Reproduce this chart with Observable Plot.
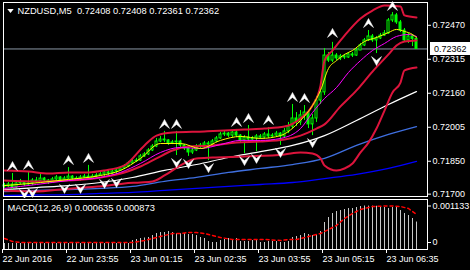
<!DOCTYPE html>
<html><head><meta charset="utf-8">
<script src="https://cdn.jsdelivr.net/npm/d3@7"></script>
<script src="https://cdn.jsdelivr.net/npm/@observablehq/plot@0.6"></script>
<style>
html,body{margin:0;padding:0;background:#000;}
#chart{position:relative;width:470px;height:270px;overflow:hidden;background:#000;}
#chart svg{position:absolute;left:0;display:block;}
</style></head><body><div id="chart"></div>
<script>
// ---------- data ----------
const symbolName = "NZDUSD,M5";
const headerOHLC = ["0.72408", "0.72408", "0.72361", "0.72362"];
const bid = 0.72362;
const macdName = "MACD(12,26,9)";
const macdHeader = ["0.000635", "0.000873"];
const timeTickIdx = [0, 16, 32, 48, 64, 80, 96];
const timeTickLabels = ["22 Jun 2016", "22 Jun 23:55", "23 Jun 01:15", "23 Jun 02:35", "23 Jun 03:55", "23 Jun 05:15", "23 Jun 06:35"];
const priceTicks = [0.72470, 0.72315, 0.72160, 0.72005, 0.71850, 0.71700];
const macdTicks = [0.001133, 0];

const opens = [0.71740,0.71735,0.71744,0.71730,0.71749,0.71753,0.71744,0.71749,0.71762,0.71758,0.71771,0.71762,0.71753,0.71767,0.71776,0.71762,0.71771,0.71780,0.71771,0.71767,0.71776,0.71780,0.71771,0.71780,0.71785,0.71790,0.71799,0.71794,0.71803,0.71808,0.71817,0.71826,0.71840,0.71849,0.71853,0.71872,0.71881,0.71899,0.71917,0.71940,0.71949,0.71945,0.71931,0.71936,0.71940,0.71922,0.71908,0.71890,0.71899,0.71917,0.71922,0.71931,0.71926,0.71940,0.71954,0.71972,0.71976,0.71967,0.71981,0.71967,0.71945,0.71958,0.71949,0.71954,0.71963,0.71958,0.71972,0.71963,0.71967,0.71976,0.71963,0.71986,0.72008,0.72045,0.72027,0.72059,0.72072,0.72018,0.72045,0.72127,0.72164,0.72332,0.72309,0.72332,0.72319,0.72328,0.72323,0.72337,0.72332,0.72355,0.72378,0.72401,0.72419,0.72401,0.72410,0.72423,0.72433,0.72492,0.72515,0.72483,0.72446,0.72401,0.72419,0.72408];
const highs = [0.71749,0.71753,0.71794,0.71758,0.71767,0.71758,0.71799,0.71771,0.71776,0.71790,0.71776,0.71767,0.71776,0.71785,0.71780,0.71780,0.71821,0.71785,0.71780,0.71785,0.71790,0.71831,0.71790,0.71794,0.71799,0.71808,0.71808,0.71812,0.71817,0.71826,0.71835,0.71849,0.71858,0.71863,0.71881,0.71890,0.71908,0.71926,0.71954,0.71963,0.71986,0.71949,0.71945,0.71986,0.71945,0.71926,0.71912,0.71908,0.71926,0.71931,0.71940,0.71940,0.71949,0.71963,0.71981,0.71990,0.71981,0.71990,0.71995,0.71972,0.71967,0.72013,0.71963,0.71972,0.71972,0.71981,0.72004,0.71976,0.71986,0.71981,0.71999,0.72027,0.72109,0.72072,0.72081,0.72104,0.72081,0.72063,0.72145,0.72182,0.72364,0.72346,0.72392,0.72341,0.72337,0.72337,0.72346,0.72346,0.72364,0.72387,0.72410,0.72446,0.72428,0.72419,0.72433,0.72446,0.72501,0.72528,0.72524,0.72492,0.72455,0.72433,0.72428,0.72408];
const lows = [0.71726,0.71730,0.71721,0.71726,0.71744,0.71735,0.71740,0.71739,0.71749,0.71753,0.71753,0.71744,0.71749,0.71762,0.71753,0.71758,0.71767,0.71762,0.71762,0.71758,0.71771,0.71767,0.71767,0.71776,0.71785,0.71780,0.71785,0.71790,0.71785,0.71803,0.71812,0.71821,0.71835,0.71844,0.71849,0.71867,0.71876,0.71894,0.71912,0.71935,0.71935,0.71922,0.71926,0.71876,0.71912,0.71899,0.71872,0.71881,0.71894,0.71908,0.71917,0.71853,0.71922,0.71935,0.71949,0.71963,0.71958,0.71958,0.71958,0.71935,0.71885,0.71940,0.71945,0.71894,0.71949,0.71954,0.71954,0.71958,0.71963,0.71922,0.71954,0.71976,0.71999,0.72008,0.72013,0.72036,0.71999,0.71967,0.72027,0.72109,0.72150,0.72300,0.72300,0.72309,0.72309,0.72314,0.72319,0.72323,0.72328,0.72355,0.72373,0.72396,0.72392,0.72341,0.72405,0.72419,0.72428,0.72483,0.72474,0.72437,0.72392,0.72387,0.72373,0.72361];
const closes = [0.71735,0.71744,0.71730,0.71749,0.71753,0.71744,0.71749,0.71762,0.71758,0.71771,0.71762,0.71753,0.71767,0.71776,0.71762,0.71771,0.71780,0.71771,0.71767,0.71776,0.71780,0.71771,0.71780,0.71785,0.71790,0.71799,0.71794,0.71803,0.71808,0.71817,0.71826,0.71840,0.71849,0.71853,0.71872,0.71881,0.71899,0.71917,0.71940,0.71949,0.71945,0.71931,0.71936,0.71940,0.71922,0.71908,0.71890,0.71899,0.71917,0.71922,0.71931,0.71926,0.71940,0.71954,0.71972,0.71976,0.71967,0.71981,0.71967,0.71945,0.71958,0.71949,0.71954,0.71963,0.71958,0.71972,0.71963,0.71967,0.71976,0.71963,0.71986,0.72008,0.72045,0.72027,0.72059,0.72072,0.72018,0.72045,0.72127,0.72164,0.72332,0.72309,0.72332,0.72319,0.72328,0.72323,0.72337,0.72332,0.72355,0.72378,0.72401,0.72419,0.72401,0.72410,0.72423,0.72433,0.72492,0.72515,0.72483,0.72446,0.72401,0.72419,0.72408,0.72362];

// Bollinger bands (red)
const bbUpperIdx = [0,6,11,16,21,25,30,35,38,42,50,55,60,65,70,74,77,79,80,82,85,89,92,95,99,100,103];
const bbUpperVal = [0.71808,0.71803,0.71794,0.71799,0.71799,0.71808,0.71831,0.71922,0.71967,0.71981,0.71986,0.71990,0.71995,0.71999,0.72008,0.72045,0.72104,0.72195,0.72309,0.72355,0.72423,0.72501,0.72537,0.72560,0.72556,0.72515,0.72506];
const bbMidIdx = [0,8,16,24,30,34,38,42,46,52,58,64,70,74,78,80,84,88,92,96,98,100,103];
const bbMidVal = [0.71762,0.71758,0.71762,0.71776,0.71799,0.71826,0.71863,0.71899,0.71917,0.71922,0.71936,0.71940,0.71949,0.71967,0.71999,0.72018,0.72100,0.72173,0.72259,0.72337,0.72378,0.72396,0.72401];
const bbLowerIdx = [0,8,14,20,26,30,34,37,40,44,48,52,60,70,74,77,79,80,83,85,87,89,91,93,95,97,99,100,103];
const bbLowerVal = [0.71717,0.71712,0.71721,0.71730,0.71739,0.71749,0.71753,0.71758,0.71785,0.71831,0.71863,0.71867,0.71872,0.71881,0.71890,0.71885,0.71863,0.71831,0.71808,0.71817,0.71840,0.71890,0.71935,0.71999,0.72081,0.72164,0.72209,0.72264,0.72277];
// moving averages
const maIdx = [0,8,16,24,32,40,48,56,64,72,80,88,96,103];
const whiteVal = [0.71721,0.71730,0.71739,0.71753,0.71776,0.71808,0.71835,0.71867,0.71894,0.71922,0.71967,0.72036,0.72109,0.72168];
const lightBlueVal = [0.71712,0.71717,0.71721,0.71726,0.71735,0.71758,0.71776,0.71799,0.71817,0.71835,0.71863,0.71922,0.71972,0.72008];
const blueVal = [0.71694,0.71696,0.71698,0.71703,0.71708,0.71717,0.71726,0.71735,0.71744,0.71753,0.71771,0.71790,0.71817,0.71849];
const magentaIdx = [0,8,16,24,29,34,39,44,49,54,59,64,69,74,77,80,83,86,89,92,95,98,101,103];
const magentaVal = [0.71726,0.71744,0.71762,0.71776,0.71799,0.71840,0.71890,0.71913,0.71908,0.71926,0.71945,0.71945,0.71954,0.71999,0.72072,0.72136,0.72186,0.72255,0.72309,0.72355,0.72387,0.72419,0.72428,0.72419];
const yellowIdx = [0,9,16,24,29,34,39,44,49,54,59,64,69,74,77,79,81,83,85,87,90,93,96,98,100,102,103];
const yellowVal = [0.71739,0.71753,0.71767,0.71785,0.71808,0.71863,0.71931,0.71931,0.71908,0.71945,0.71963,0.71954,0.71967,0.72036,0.72104,0.72173,0.72273,0.72309,0.72337,0.72355,0.72396,0.72414,0.72437,0.72451,0.72442,0.72428,0.72414];
// fractals
const fracUpIdx = [2,6,16,21,40,43,58,61,66,72,75,82,91,97];
const fracUpVal = [0.71826,0.71831,0.71853,0.71863,0.72018,0.72018,0.72027,0.72045,0.72036,0.72141,0.72136,0.72433,0.72478,0.72556];
const fracDnIdx = [5,7,15,19,25,28,43,46,51,60,63,69,77,93];
const fracDnVal = [0.71703,0.71708,0.71726,0.71726,0.71749,0.71753,0.71844,0.71840,0.71821,0.71853,0.71863,0.71890,0.71935,0.72309];
// MACD
const macdHist = [-0.000031,-0.000031,-0.000031,-0.000031,-0.000031,-0.000031,-0.000031,-0.000031,-0.000031,-0.000031,-0.000031,-0.000031,-0.000031,-0.000031,-0.000031,-0.000031,-0.000031,-0.000031,-0.000031,-0.000031,-0.000031,-0.000031,-0.000031,-0.000031,-0.000031,-0.000031,-0.000031,-0.000031,-0.000031,-0.000031,-0.000031,-0.000031,0.000062,0.000093,0.000124,0.000140,0.000155,0.000217,0.000279,0.000310,0.000310,0.000341,0.000310,0.000279,0.000279,0.000279,0.000248,0.000248,0.000217,0.000155,0.000124,0.000031,0.000000,0.000000,0.000062,0.000093,0.000124,0.000093,0.000124,0.000031,0.000031,0.000031,0.000062,0.000062,0.000000,0.000000,0.000031,0.000031,0.000031,0.000000,0.000000,0.000031,0.000155,0.000186,0.000217,0.000279,0.000248,0.000217,0.000248,0.000341,0.000621,0.000776,0.000900,0.000962,0.000993,0.001024,0.001055,0.001055,0.001086,0.001117,0.001133,0.001130,0.001128,0.001125,0.001117,0.001086,0.001055,0.001086,0.001117,0.000993,0.000900,0.000838,0.000745,0.000635];
const signalIdx = [0,2,4,32,35,37,40,42,44,46,48,50,52,54,57,61,65,69,71,73,74,76,79,81,83,85,87,89,91,92,95,97,99,101,102,103];
const signalVal = [0.000124,0.000031,0.000000,0.000000,0.000062,0.000124,0.000217,0.000279,0.000279,0.000310,0.000310,0.000279,0.000217,0.000155,0.000093,0.000093,0.000093,0.000062,0.000093,0.000093,0.000124,0.000186,0.000279,0.000403,0.000528,0.000745,0.000900,0.001024,0.001086,0.001117,0.001133,0.001133,0.001117,0.001055,0.000962,0.000873];

// ---------- build ----------
const bars = closes.map((c, i) => ({i, o: opens[i], h: highs[i], l: lows[i], c}));
const pts = (idx, val) => idx.map((i, k) => ({i, v: val[k]}));
const hist = macdHist.map((v, i) => ({i, v}));

const xDomain = [-0.25, 105.75];
const mainY = [0.716892, 0.725739];
const macdY = [-0.000217, 0.001335];
const font = "'Liberation Sans', Arial, sans-serif";
const lime = "#00ff00";
const red = "#dc143c";

// MT4-style fractal arrowheads (notched chevrons), r = half-width in px
const arrowUp = {draw(ctx, size) { const r = Math.sqrt(size / Math.PI); ctx.moveTo(0, -r); ctx.lineTo(r, r * 0.8); ctx.lineTo(0, 0); ctx.lineTo(-r, r * 0.8); ctx.closePath(); }};
const arrowDn = {draw(ctx, size) { const r = Math.sqrt(size / Math.PI); ctx.moveTo(0, r); ctx.lineTo(r, -r * 0.8); ctx.lineTo(0, 0); ctx.lineTo(-r, -r * 0.8); ctx.closePath(); }};
const triDown = {draw(ctx, size) { const r = Math.sqrt(size / Math.PI); ctx.moveTo(-r, -r * 0.6); ctx.lineTo(r, -r * 0.6); ctx.lineTo(0, r * 0.6); ctx.closePath(); }};

const main = Plot.plot({
  width: 470, height: 198,
  marginLeft: 3, marginRight: 43, marginTop: 2, marginBottom: 2,
  x: {domain: xDomain, axis: null},
  y: {domain: mainY, axis: null},
  r: {type: "identity"},
  style: {background: "black", color: "white", fontFamily: font, overflow: "visible"},
  marks: [
    Plot.ruleY([bid], {stroke: "#8a97a6"}),
    Plot.line(pts(maIdx, blueVal), {x: "i", y: "v", stroke: "#0000ff", strokeWidth: 1.3, curve: "monotone-x"}),
    Plot.line(pts(maIdx, lightBlueVal), {x: "i", y: "v", stroke: "#3f6fe0", strokeWidth: 1.3, curve: "monotone-x"}),
    Plot.line(pts(maIdx, whiteVal), {x: "i", y: "v", stroke: "white", strokeWidth: 1.2, curve: "monotone-x"}),
    Plot.ruleX(bars, {x: "i", y1: "l", y2: "h", stroke: lime, strokeWidth: 1}),
    Plot.rect(bars, {x1: d => d.i - 0.25, x2: d => d.i + 0.25, y1: "o", y2: "c", stroke: lime, strokeWidth: 1, fill: d => d.c >= d.o ? "black" : lime}),
    Plot.line(pts(bbUpperIdx, bbUpperVal), {x: "i", y: "v", stroke: red, strokeWidth: 2, curve: "monotone-x"}),
    Plot.line(pts(bbMidIdx, bbMidVal), {x: "i", y: "v", stroke: red, strokeWidth: 2, curve: "monotone-x"}),
    Plot.line(pts(bbLowerIdx, bbLowerVal), {x: "i", y: "v", stroke: red, strokeWidth: 2, curve: "monotone-x"}),
    Plot.line(pts(magentaIdx, magentaVal), {x: "i", y: "v", stroke: "#ff00ff", strokeWidth: 1, curve: "monotone-x"}),
    Plot.line(pts(yellowIdx, yellowVal), {x: "i", y: "v", stroke: "#ffff00", strokeWidth: 1, curve: "monotone-x"}),
    Plot.dot(pts(fracUpIdx, fracUpVal), {x: "i", y: "v", symbol: arrowUp, r: 5, fill: "white", stroke: "white", strokeWidth: 0.5}),
    Plot.dot(pts(fracDnIdx, fracDnVal), {x: "i", y: "v", symbol: arrowDn, r: 5, fill: "white", stroke: "white", strokeWidth: 0.5}),
    Plot.frame({stroke: "white"}),
    Plot.axisY(priceTicks, {anchor: "right", label: null, tickFormat: d3.format(".5f"), tickSize: 3, tickPadding: 2, fontSize: 9, stroke: "white", fill: "white"}),
    Plot.dot([0], {frameAnchor: "top-left", dx: 7, dy: 8.5, symbol: triDown, r: 3.2, fill: "white", stroke: null}),
    Plot.text([`${symbolName}\u00a0\u00a0${headerOHLC.join(" ")}`], {frameAnchor: "top-left", dx: 14, dy: 5, lineAnchor: "top", fontSize: 9.3, fill: "white"})
  ]
});

// current bid price label box on the right scale
const ys = main.scale("y");
const by = ys.apply(bid);
const sel = d3.select(main);
sel.append("rect").attr("x", 430).attr("y", Math.round(by) - 6).attr("width", 40).attr("height", 13).attr("fill", "white");
sel.append("text").attr("x", 434).attr("y", by).attr("dy", "0.35em").attr("text-anchor", "start").attr("font-size", 9).attr("fill", "black").attr("font-family", font).text(d3.format(".5f")(bid));

const macd = Plot.plot({
  width: 470, height: 72,
  marginLeft: 3, marginRight: 43, marginTop: 1, marginBottom: 21,
  x: {domain: xDomain, axis: null},
  y: {domain: macdY, axis: null},
  style: {background: "black", color: "white", fontFamily: font, overflow: "visible"},
  marks: [
    Plot.ruleX(hist, {x: "i", y1: macdY[0], y2: "v", stroke: "#c8c8c8", strokeWidth: 1}),
    Plot.line(pts(signalIdx, signalVal), {x: "i", y: "v", stroke: "#ff0000", strokeWidth: 1.5, strokeDasharray: "3,3"}),
    Plot.frame({stroke: "white"}),
    Plot.axisY(macdTicks, {anchor: "right", label: null, tickFormat: d => d === 0 ? "0" : d3.format(".6f")(d), tickSize: 3, tickPadding: 2, fontSize: 9, stroke: "white", fill: "white"}),
    Plot.axisX(timeTickIdx, {anchor: "bottom", label: null, tickFormat: d => timeTickLabels[timeTickIdx.indexOf(d)], tickSize: 4, tickPadding: 2, textAnchor: "start", dx: -2, fontSize: 9, stroke: "white", fill: "white"}),
    Plot.text([`${macdName} ${macdHeader.join(" ")}`], {frameAnchor: "top-left", dx: 4, dy: 5, lineAnchor: "top", fontSize: 9.3, fill: "white"})
  ]
});

const chart = document.getElementById("chart");
main.style.top = "0px";
macd.style.top = "198px";
chart.appendChild(main);
chart.appendChild(macd);
</script>
</body></html>
